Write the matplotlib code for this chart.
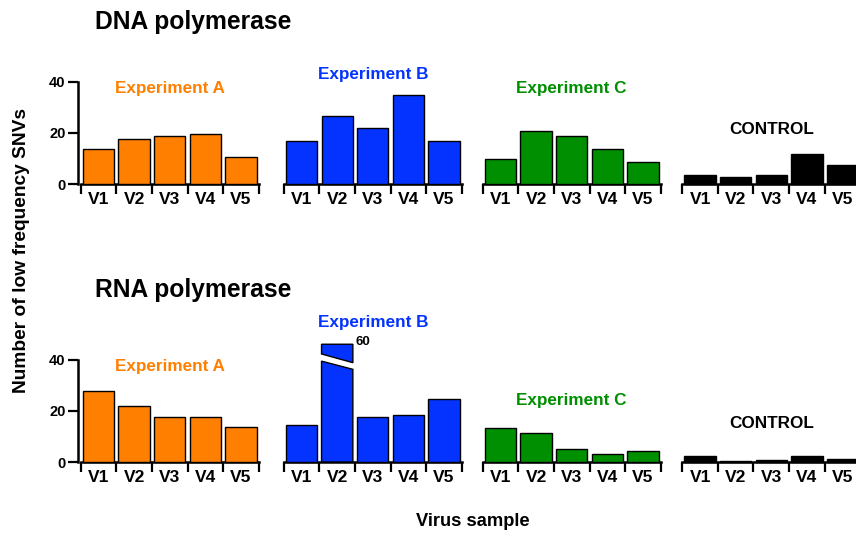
import matplotlib
matplotlib.use("Agg")
import matplotlib.pyplot as plt
from matplotlib.patches import Polygon
import numpy as np

plt.rcParams['font.family'] = ['Liberation Sans', 'DejaVu Sans']
plt.rcParams['font.weight'] = 'bold'

samples = ["V1", "V2", "V3", "V4", "V5"]
groups = ["Experiment A", "Experiment B", "Experiment C", "CONTROL"]
colors = ["#FF8000", "#0433FF", "#008F00", "#000000"]

dna_a = [13.7, 17.7, 18.7, 19.6, 10.7]
dna_b = [16.7, 26.6, 21.7, 34.8, 16.7]
dna_c = [9.8, 20.7, 18.7, 13.7, 8.6]
dna_ctrl = [3.7, 2.6, 3.7, 11.6, 7.6]

rna_a = [27.6, 21.7, 17.6, 17.6, 13.6]
rna_b = [14.4, 60.0, 17.6, 18.5, 24.6]
rna_c = [13.1, 11.2, 5.2, 3.2, 4.2]
rna_ctrl = [2.2, 0.3, 0.7, 2.3, 1.3]

rows = [
    ("DNA polymerase", [dna_a, dna_b, dna_c, dna_ctrl]),
    ("RNA polymerase", [rna_a, rna_b, rna_c, rna_ctrl]),
]

W, H = 856, 534
fig = plt.figure(figsize=(W / 100, H / 100), dpi=100)

YMAX = 48.0
AXIS_TOP = 40
BREAK_CAP = 46.0   # displayed height of a bar that exceeds the axis
PX_PER_UNIT = 2.56

panel_left = [80.7, 283.8, 482.7, 682.3]
panel_w = 178.0
row_base = [184.0, 462.0]          # pixel y of zero line
row_title_y = [22, 290]
label_y = [[88, 74, 88, 129], [366, 322, 401, 423]]

for r, (title, series) in enumerate(rows):
    base = row_base[r]
    ax_h = YMAX * PX_PER_UNIT
    for c, vals in enumerate(series):
        left = panel_left[c] / W
        bottom = (H - base) / H
        ax = fig.add_axes([left, bottom, panel_w / W, ax_h / H])
        x = np.arange(len(samples))
        ax.set_xlim(-0.5, len(samples) - 0.5)
        ax.set_ylim(0, YMAX)
        for xi, v in zip(x, vals):
            if v > AXIS_TOP + 5:
                bw = 0.88
                x0, x1 = xi - bw / 2, xi + bw / 2
                lo_l, lo_r = 39.4, 36.2
                hi_l, hi_r = 42.2, 38.8
                lower = Polygon([(x0, 0), (x1, 0), (x1, lo_r), (x0, lo_l)], closed=True,
                                facecolor=colors[c], edgecolor='black', linewidth=1.0, zorder=3)
                upper = Polygon([(x0, hi_l), (x1, hi_r), (x1, BREAK_CAP), (x0, BREAK_CAP)], closed=True,
                                facecolor=colors[c], edgecolor='black', linewidth=1.0, zorder=3)
                ax.add_patch(lower)
                ax.add_patch(upper)
                ax.text(x1 + 0.08, BREAK_CAP + 1.0, f"{v:g}", fontsize=9.5, fontweight='bold',
                        ha='left', va='center', clip_on=False)
            else:
                ax.bar(xi, v, width=0.88, color=colors[c], edgecolor='black', linewidth=1.0, zorder=3)
        for s in ['top', 'right']:
            ax.spines[s].set_visible(False)
        ax.spines['bottom'].set_linewidth(1.8)
        ax.set_xticks(np.arange(-0.5, len(samples), 1.0))
        ax.set_xticklabels([])
        ax.set_xticks(x, minor=True)
        ax.set_xticklabels(samples, minor=True, fontsize=12.5, fontweight='bold')
        ax.tick_params(axis='x', which='major', direction='out', length=7.5, width=1.6)
        ax.tick_params(axis='x', which='minor', length=0, pad=6)
        if c == 0:
            ax.spines['left'].set_linewidth(1.8)
            ax.spines['left'].set_bounds(0, AXIS_TOP)
            ax.spines['left'].set_position(('outward', 2))
            ax.set_yticks([0, 20, 40])
            ax.set_yticklabels(["0", "20", "40"], fontsize=10.5, fontweight='bold')
            ax.tick_params(axis='y', direction='out', length=7, width=1.6, pad=2)
        else:
            ax.spines['left'].set_visible(False)
            ax.set_yticks([])
        ax.patch.set_alpha(0)
        for p in ax.patches:
            p.set_clip_on(False)
        cx = (panel_left[c] + panel_w / 2) / W
        fig.text(cx, 1 - label_y[r][c] / H, groups[c], color=colors[c] if c < 3 else 'black',
                 fontsize=12.3, fontweight='bold', ha='center', va='center')
    fig.text(95 / W, 1 - row_title_y[r] / H, title, fontsize=17.7, fontweight='bold',
             ha='left', va='center')

fig.text(22 / W, 1 - 251 / H, "Number of low frequency SNVs", rotation=90, fontsize=13.8,
         fontweight='bold', ha='center', va='center')
fig.text(473 / W, 1 - 522 / H, "Virus sample", fontsize=13.2, fontweight='bold',
         ha='center', va='center')

fig.savefig("out.png", dpi=100)
